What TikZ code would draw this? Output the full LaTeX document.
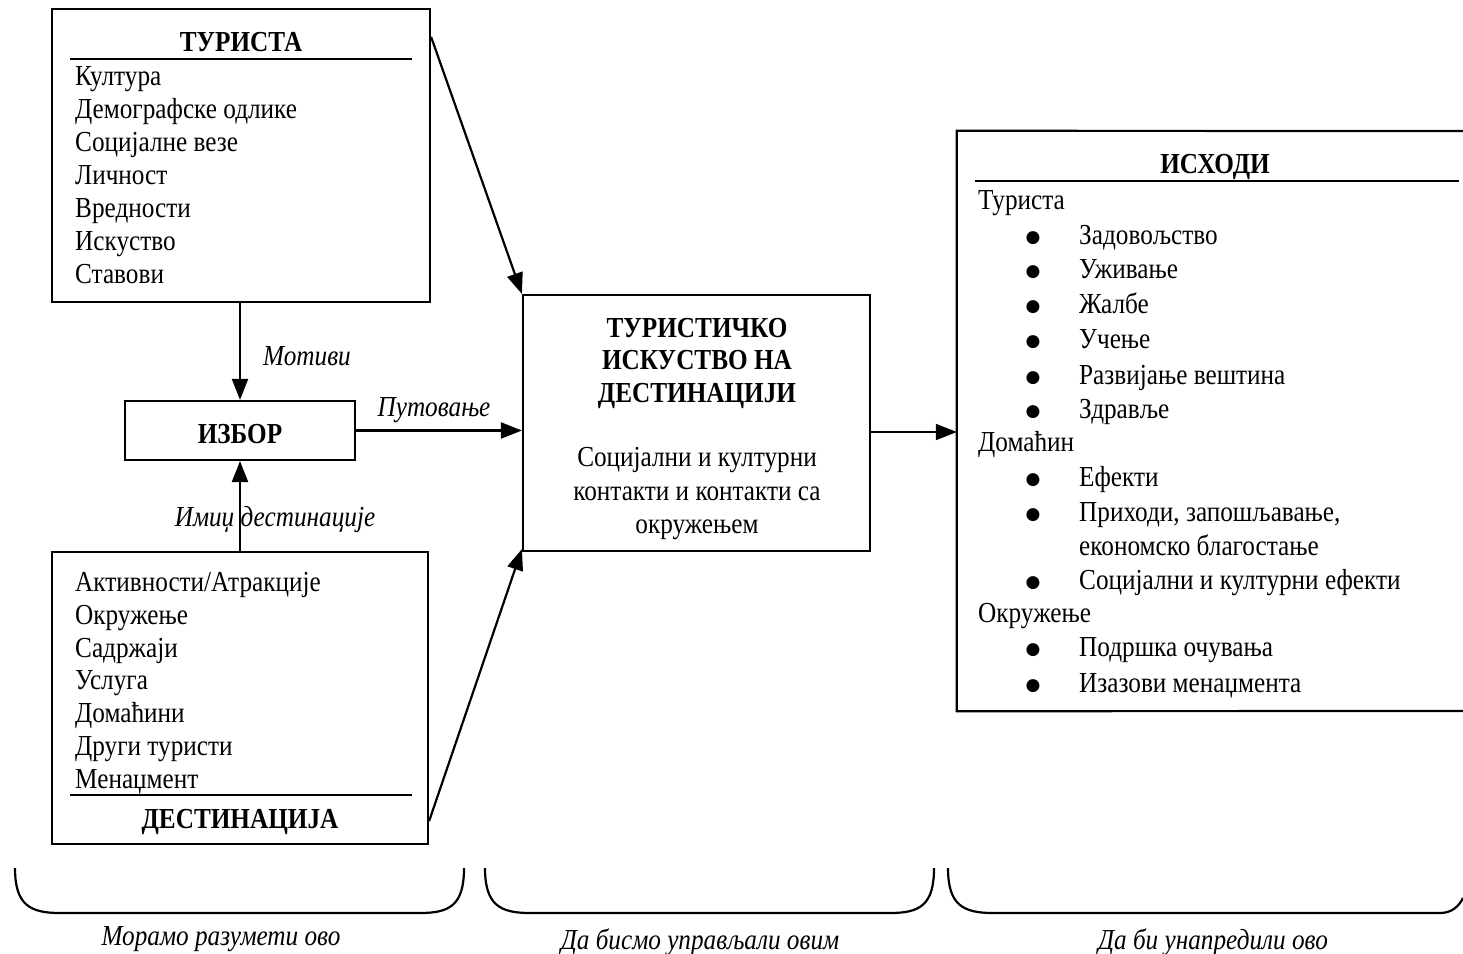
\documentclass[tikz,border=0pt]{standalone}
\usepackage{fontspec}
\setmainfont{Liberation Serif}[FakeStretch=0.87]
\newfontfamily\bulfont{DejaVu Sans}
\usetikzlibrary{arrows.meta,calc}
\begin{document}
\begin{tikzpicture}[x=1pt,y=-1pt,
 box/.style={draw,line width=2.2pt,inner sep=0pt},
 area/.style={inner sep=0pt},
 txt/.style={anchor=base west,inner sep=0pt,font=\fontsize{29}{34}\selectfont},
 ttl/.style={anchor=base,inner sep=0pt,font=\fontsize{29}{34}\selectfont\bfseries},
 ctr/.style={anchor=base,inner sep=0pt,font=\fontsize{29}{34}\selectfont},
 lab/.style={anchor=base,inner sep=0pt,font=\fontsize{29}{34}\selectfont\itshape},
 bul/.style={anchor=base,inner sep=0pt,yshift=2.5pt,font=\bulfont\fontsize{17}{20}\selectfont},
 arr/.style={line width=2.2pt,-{Triangle[length=21pt,width=16pt]}},
 rulel/.style={line width=1.8pt},
 brace/.style={line width=2.2pt}]
\useasboundingbox (0,0) rectangle (1463,953);

% boxes
\node[box,minimum width=378pt,minimum height=293pt] (tour) at (241,155.5) {};
\node[box,minimum width=230pt,minimum height=59pt] (choice) at (240,430.5) {};
\node[box,minimum width=376pt,minimum height=292pt] (dest) at (240,698) {};
\node[box,minimum width=347pt,minimum height=256pt] (exp) at (696.5,423) {};
\node[area,minimum width=506pt,minimum height=580pt] (out) at (1210,421) {};
\draw[line width=2.2pt] (1463,131) -- (out.north west) -- (out.south west) -- (1463,711);

% tourist box
\node[ttl] (tourT) at (241,51) {ТУРИСТА};
\draw[rulel] (70,59) -- (412,59);
\foreach \t [count=\i] in {Култура,Демографске одлике,Социјалне везе,Личност,Вредности,Искуство,Ставови}
  \node[txt] (tour\i) at (75,{85.5+33*(\i-1)}) {\t};

% choice
\node[ttl] (choiceT) at (240,443) {ИЗБОР};

% destination box
\foreach \t [count=\i] in {Активности/Атракције,Окружење,Садржаји,Услуга,Домаћини,Други туристи,Менаџмент}
  \node[txt] (dest\i) at (75,{591.5+32.8*(\i-1)}) {\t};
\draw[rulel] (70,795) -- (412,795);
\node[ttl] (destT) at (240,828) {ДЕСТИНАЦИЈА};

% experience box
\node[ttl] (exp1) at (697,337) {ТУРИСТИЧКО};
\node[ttl] (exp2) at (697,369) {ИСКУСТВО НА};
\node[ttl] (exp3) at (697,402) {ДЕСТИНАЦИЈИ};
\node[ctr] (exp4) at (697,466.5) {Социјални и културни};
\node[ctr] (exp5) at (697,500.5) {контакти и контакти са};
\node[ctr] (exp6) at (697,533.5) {окружењем};

% outcomes box
\node[ttl] (outT) at (1215,173) {ИСХОДИ};
\draw[rulel] (975,181) -- (1459,181);
\node[txt] (g1) at (978,209.5) {Туриста};
\node[txt] (g2) at (978,451.5) {Домаћин};
\node[txt] (g3) at (978,622.5) {Окружење};
\foreach \t/\y [count=\i] in {Задовољство/244.5,Уживање/278.5,Жалбе/313.5,Учење/348.5,Развијање вештина/384.5,Здравље/418.5,Ефекти/486.5,{Приходи, запошљавање,}/521.5,Социјални и културни ефекти/589.5,Подршка очувања/656.5,Изазови менаџмента/692.5}{
  \node[bul] (b\i) at (1033,\y) {●};
  \node[txt] (o\i) at (1079,\y) {\t};
}
\node[txt] (o12) at (1079,555.5) {економско благостање};

% arrows
\draw[arr] (tour.south -| choice.north) -- (choice.north);
\draw[arr] (dest.north) -- (choice.south);
\draw[arr] (choice.east) -- (exp.west |- choice.east);
\draw[arr] ($(tour.north east)+(0,29)$) -- (exp.north west);
\draw[arr] ($(dest.south east)+(0,-24)$) -- ($(exp.south west)+(0,-3)$);
\draw[arr] ($(exp.east)+(0,9)$) -- ($(out.west)+(0,11)$);

% arrow labels
\node[lab] (l1) at (307,365) {Мотиви};
\node[lab] (l2) at (434,416) {Путовање};
\node[lab] (l3) at (275,526) {Имиџ дестинације};

% braces
\draw[brace] (15,868) .. controls (15,905) and (30,913) .. (60,913) -- (420,913) .. controls (450,913) and (464,905) .. (464,868);
\draw[brace] (485,868) .. controls (485,905) and (500,913) .. (530,913) -- (890,913) .. controls (920,913) and (934,905) .. (934,868);
\draw[brace] (948,868) .. controls (948,905) and (963,913) .. (993,913) -- (1440,913) .. controls (1452,913) and (1459,906) .. (1463,898);
\node[lab] (bl1) at (221,945) {Морамо разумети ово};
\node[lab] (bl2) at (700,949) {Да бисмо управљали овим};
\node[lab] (bl3) at (1213,949) {Да би унапредили ово};
\end{tikzpicture}
\end{document}
